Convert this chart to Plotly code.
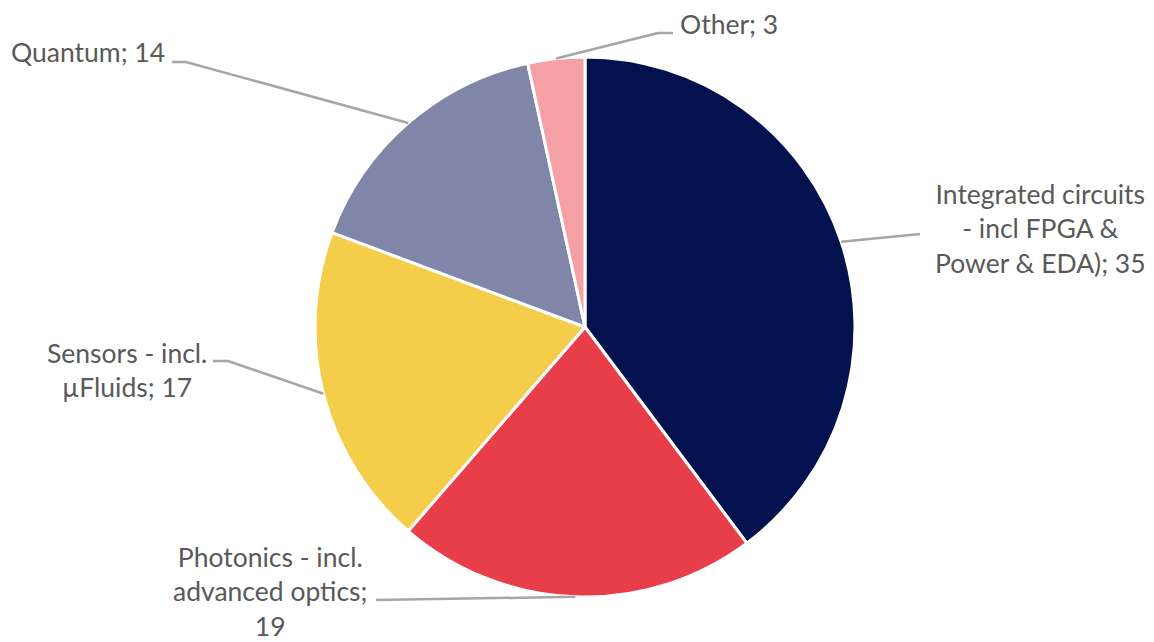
import math
import plotly.graph_objects as go

# Category breakdown (clockwise from 12 o'clock)
labels = [
    "Integrated circuits - incl FPGA & Power & EDA)",
    "Photonics - incl. advanced optics",
    "Sensors - incl. µFluids",
    "Quantum",
    "Other",
]
values = [35, 19, 17, 14, 3]
colors = ["#03114E", "#E83E49", "#F4CD4A", "#7F86A8", "#F4A0A5"]

# Label text as displayed next to each slice
label_text = [
    "Integrated circuits<br>- incl FPGA &<br>Power & EDA); 35",
    "Photonics - incl.<br>advanced optics;<br>19",
    "Sensors - incl.<br>µFluids; 17",
    "Quantum; 14",
    "Other; 3",
]

W, H = 1154, 642
CX, CY, R = 585, 327, 270  # pie centre and radius in pixels

dom_x = [(CX - R) / W, (CX + R) / W]
dom_y = [1 - (CY + R) / H, 1 - (CY - R) / H]

fig = go.Figure(
    go.Pie(
        labels=labels,
        values=values,
        sort=False,
        direction="clockwise",
        rotation=0,
        marker=dict(colors=colors, line=dict(color="white", width=3)),
        textinfo="none",
        hoverinfo="label+value",
        domain=dict(x=dom_x, y=dom_y),
        showlegend=False,
    )
)

# Label placement (pixel positions of text anchor, leader elbow)
label_pos = [
    dict(x=1040, y=228, xanchor="center", elbow=[(920, 234)]),
    dict(x=270, y=591, xanchor="center", elbow=[(376, 600)]),
    dict(x=127, y=370, xanchor="center", elbow=[(213, 361), (228, 361)]),
    dict(x=9, y=52, xanchor="left", elbow=[(172, 62), (186, 62)]),
    dict(x=678, y=24, xanchor="left", elbow=[(673, 33), (658, 33)]),
]


def px(x, y):
    return x / W, 1 - y / H


total = sum(values)
cum = 0
shapes = []
annotations = []
for v, txt, pos in zip(values, label_text, label_pos):
    mid = (cum + v / 2) / total * 2 * math.pi
    cum += v
    ex = CX + R * math.sin(mid)
    ey = CY - R * math.cos(mid)
    pts = pos["elbow"] + [(ex, ey)]
    path = "M " + " L ".join(f"{px(x, y)[0]:.5f},{px(x, y)[1]:.5f}" for x, y in pts)
    shapes.append(
        dict(type="path", xref="paper", yref="paper", path=path,
             line=dict(color="#A6A6A6", width=2.5), layer="above")
    )
    ax, ay = px(pos["x"], pos["y"])
    annotations.append(
        dict(text=txt, x=ax, y=ay, xref="paper", yref="paper",
             xanchor=pos["xanchor"], yanchor="middle", align="center",
             showarrow=False, font=dict(family="Lato", size=26.5, color="#595959"))
    )

fig.update_layout(
    width=W,
    height=H,
    margin=dict(l=0, r=0, t=0, b=0),
    paper_bgcolor="white",
    plot_bgcolor="white",
    shapes=shapes,
    annotations=annotations,
)

fig.write_html("out.html")
